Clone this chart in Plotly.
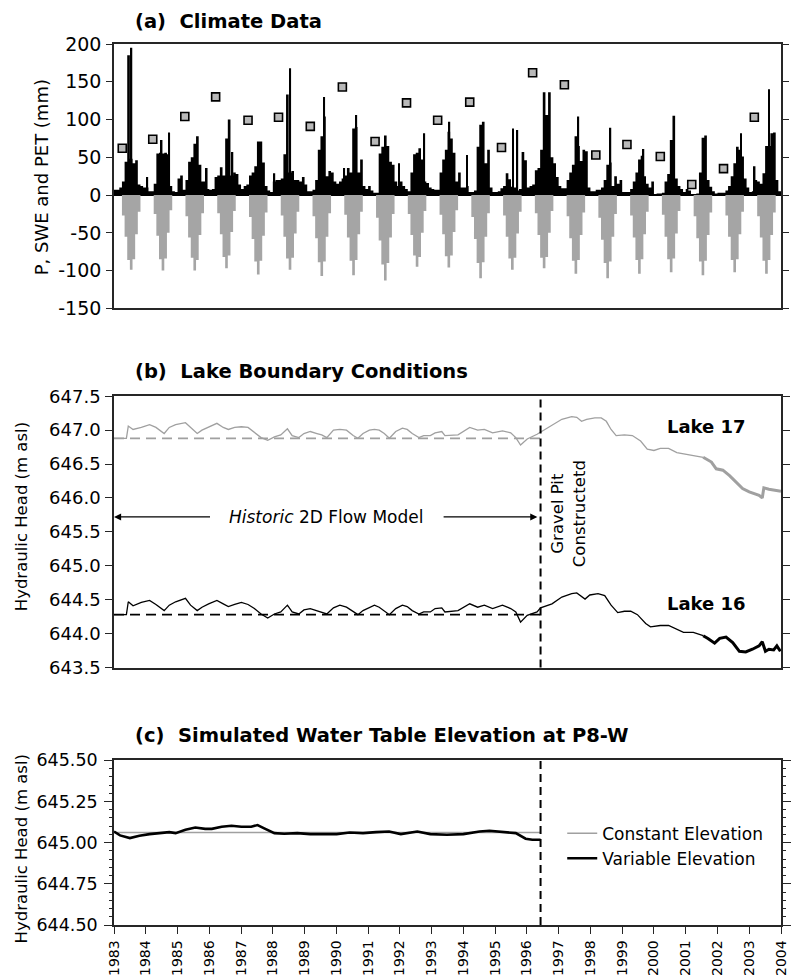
import plotly.graph_objects as go

# ---------------- DATA ----------------
YEARS = list(range(1983, 2004))

# (a) monthly precipitation (mm), Jan..Dec for each year 1983-2003
P_MONTHLY = [
    [7, 7, 10, 18, 44, 185, 48, 42, 46, 14, 12, 10],
    [10, 5, 5, 15, 55, 56, 55, 56, 54, 12, 5, 4],
    [22, 26, 7, 20, 44, 50, 68, 78, 40, 18, 18, 8],
    [7, 8, 24, 26, 37, 26, 75, 100, 26, 30, 28, 14],
    [8, 12, 14, 26, 30, 38, 71, 71, 43, 12, 6, 4],
    [18, 20, 20, 22, 54, 133, 30, 32, 20, 20, 18, 24],
    [14, 5, 5, 7, 20, 60, 78, 104, 25, 32, 30, 18],
    [15, 18, 22, 26, 36, 30, 88, 90, 30, 47, 12, 8],
    [12, 6, 3, 3, 55, 64, 79, 65, 44, 40, 18, 12],
    [18, 12, 8, 5, 30, 54, 56, 62, 47, 18, 16, 10],
    [8, 7, 7, 30, 47, 60, 84, 75, 56, 18, 30, 10],
    [10, 12, 4, 4, 6, 64, 93, 97, 42, 60, 10, 4],
    [4, 5, 9, 12, 29, 21, 11, 10, 6, 8, 57, 46],
    [10, 12, 14, 33, 36, 60, 136, 106, 136, 50, 42, 24],
    [12, 9, 9, 20, 30, 40, 78, 65, 45, 60, 58, 10],
    [5, 5, 7, 7, 10, 20, 40, 43, 12, 25, 15, 20],
    [4, 4, 4, 8, 18, 30, 47, 52, 25, 15, 10, 18],
    [1, 2, 2, 3, 18, 28, 73, 105, 22, 12, 8, 4],
    [8, 6, 1, 1, 2, 30, 76, 79, 20, 11, 5, 2],
    [3, 3, 3, 6, 12, 25, 42, 64, 60, 51, 22, 10],
    [4, 5, 20, 18, 15, 29, 65, 65, 82, 83, 20, 5],
]

# short high-intensity precipitation events (decimal year, mm)
P_SPIKE_T = [1983.55, 1984.05, 1984.50, 1984.74, 1985.92, 1986.73, 1988.05, 1988.55,
             1989.62, 1990.25, 1990.63, 1991.97, 1992.77, 1993.56, 1994.12, 1995.56,
             1995.70, 1997.62, 1998.63, 1999.67, 2002.74, 2003.17, 2003.62]
P_SPIKE_V = [195, 24, 73, 83, 36, 57, 29, 168,
             130, 36, 106, 42, 82, 97, 53, 88,
             86, 104, 89, 61, 82, 38, 140]

# (a) monthly PET (mm, negative), April..October each year
PET_MONTHS = [3, 4, 5, 6, 7, 8, 9]
PET_APR_OCT = [
    [-27, -55, -86, -99, -85, -52, -22],
    [-25, -54, -85, -100, -84, -50, -20],
    [-28, -56, -83, -100, -86, -53, -24],
    [-24, -52, -82, -97, -80, -49, -21],
    [-29, -58, -88, -105, -87, -54, -23],
    [-27, -55, -84, -99, -83, -51, -22],
    [-28, -57, -89, -107, -88, -55, -24],
    [-26, -56, -87, -106, -86, -52, -22],
    [-30, -60, -92, -113, -90, -56, -25],
    [-25, -53, -80, -95, -82, -50, -21],
    [-26, -52, -81, -96, -80, -49, -20],
    [-29, -58, -90, -110, -89, -55, -24],
    [-27, -55, -84, -99, -83, -51, -22],
    [-24, -53, -83, -97, -82, -50, -21],
    [-28, -57, -87, -104, -86, -53, -23],
    [-30, -59, -90, -110, -88, -55, -25],
    [-27, -56, -86, -104, -85, -52, -22],
    [-26, -55, -85, -102, -84, -51, -21],
    [-28, -57, -88, -106, -87, -53, -23],
    [-27, -55, -86, -102, -85, -52, -22],
    [-28, -56, -87, -104, -86, -53, -23],
]

# (a) peak snow water equivalent
SWE_T = [1983.26, 1984.22, 1985.23, 1986.20, 1987.22, 1988.18, 1989.18, 1990.19,
         1991.22, 1992.21, 1993.19, 1994.20, 1995.20, 1996.18, 1997.18, 1998.17,
         1999.15, 2000.20, 2001.19, 2002.19, 2003.16]
SWE_V = [62, 74, 104, 130, 99, 103, 91, 143, 71, 122, 99, 123, 63, 162, 146, 53,
         67, 51, 14, 35, 103]

# (b) lake levels (m asl)
LAKE17_T = [1983.00, 1983.39, 1983.45, 1983.60, 1983.86, 1984.12, 1984.32, 1984.58, 1984.74,
            1984.94, 1985.25, 1985.41, 1985.62, 1985.77, 1985.98, 1986.24, 1986.44, 1986.60,
            1986.80, 1987.01, 1987.22, 1987.42, 1987.63, 1987.84, 1988.05, 1988.25, 1988.46,
            1988.61, 1988.82, 1988.98, 1989.18, 1989.39, 1989.54, 1989.70, 1989.91, 1990.11,
            1990.32, 1990.53, 1990.68, 1990.84, 1991.04, 1991.20, 1991.35, 1991.51, 1991.67,
            1991.87, 1992.08, 1992.23, 1992.39, 1992.60, 1992.75, 1992.96, 1993.11, 1993.32,
            1993.42, 1993.83, 1994.20, 1994.45, 1994.66, 1994.92, 1995.23, 1995.49, 1995.65,
            1995.80, 1996.01, 1996.32, 1996.43, 1996.79, 1997.10, 1997.41, 1997.57, 1997.72,
            1997.88, 1998.14, 1998.34, 1998.50, 1998.65, 1998.81, 1999.07, 1999.32, 1999.58,
            1999.79, 2000.00, 2000.20, 2000.46, 2000.72, 2000.98, 2001.29, 2001.55, 2001.81,
            2001.96, 2002.17, 2002.38, 2002.58, 2002.79, 2003.00, 2003.31, 2003.41, 2003.46,
            2003.62, 2003.82, 2004.00]
LAKE17_V = [646.88, 646.88, 647.06, 647.01, 647.04, 647.08, 647.04, 646.95, 647.04,
            647.08, 647.11, 647.04, 646.95, 647.00, 647.05, 647.10, 647.04, 647.01,
            647.04, 647.05, 647.04, 646.96, 646.89, 646.85, 646.90, 646.93, 647.02,
            646.92, 646.89, 646.95, 646.98, 646.95, 646.93, 646.89, 647.00, 647.01,
            647.00, 646.92, 646.88, 646.95, 647.00, 647.01, 647.00, 646.95, 646.88,
            646.98, 647.03, 647.01, 646.95, 646.89, 646.92, 646.92, 646.96, 646.98,
            646.92, 646.93, 647.04, 647.00, 647.01, 646.96, 646.99, 646.96, 646.89,
            646.78, 646.87, 646.94, 646.97, 647.07, 647.16, 647.20, 647.19, 647.13,
            647.16, 647.18, 647.18, 647.13, 647.01, 646.92, 646.93, 646.92, 646.84,
            646.72, 646.70, 646.73, 646.73, 646.67, 646.65, 646.63, 646.60, 646.53,
            646.43, 646.41, 646.33, 646.23, 646.14, 646.09, 646.04, 646.00, 646.15,
            646.13, 646.12, 646.10]

LAKE16_T = [1983.00, 1983.39, 1983.45, 1983.60, 1983.86, 1984.12, 1984.32, 1984.58, 1984.74,
            1984.94, 1985.25, 1985.41, 1985.62, 1985.77, 1985.98, 1986.24, 1986.44, 1986.60,
            1986.80, 1987.01, 1987.22, 1987.42, 1987.63, 1987.84, 1988.05, 1988.25, 1988.46,
            1988.61, 1988.82, 1988.98, 1989.18, 1989.39, 1989.54, 1989.70, 1989.91, 1990.11,
            1990.32, 1990.53, 1990.68, 1990.84, 1991.04, 1991.20, 1991.35, 1991.51, 1991.67,
            1991.87, 1992.08, 1992.23, 1992.39, 1992.60, 1992.75, 1992.96, 1993.11, 1993.32,
            1993.42, 1993.83, 1994.20, 1994.45, 1994.66, 1994.92, 1995.23, 1995.49, 1995.65,
            1995.80, 1996.01, 1996.32, 1996.43, 1996.79, 1997.10, 1997.41, 1997.57, 1997.83,
            1997.98, 1998.24, 1998.45, 1998.65, 1998.86, 1999.07, 1999.27, 1999.48, 1999.74,
            1999.89, 2000.20, 2000.46, 2000.72, 2000.93, 2001.24, 2001.55, 2001.70, 2001.91,
            2002.07, 2002.27, 2002.48, 2002.69, 2002.89, 2003.10, 2003.31, 2003.41, 2003.51,
            2003.62, 2003.77, 2003.87, 2003.98]
LAKE16_V = [644.28, 644.28, 644.47, 644.41, 644.46, 644.49, 644.43, 644.34, 644.42,
            644.47, 644.52, 644.42, 644.34, 644.39, 644.44, 644.49, 644.44, 644.40,
            644.43, 644.46, 644.43, 644.37, 644.29, 644.23, 644.29, 644.32, 644.42,
            644.32, 644.29, 644.35, 644.37, 644.34, 644.32, 644.29, 644.38, 644.42,
            644.39, 644.32, 644.28, 644.34, 644.39, 644.42, 644.39, 644.34, 644.28,
            644.37, 644.42, 644.40, 644.34, 644.29, 644.32, 644.32, 644.37, 644.38,
            644.32, 644.34, 644.44, 644.39, 644.42, 644.37, 644.42, 644.37, 644.32,
            644.17, 644.27, 644.32, 644.38, 644.44, 644.54, 644.59, 644.60, 644.51,
            644.57, 644.59, 644.56, 644.42, 644.31, 644.33, 644.33, 644.28, 644.15,
            644.10, 644.12, 644.12, 644.07, 644.02, 644.02, 643.97, 643.93, 643.86,
            643.93, 643.95, 643.87, 643.74, 643.73, 643.77, 643.82, 643.88, 643.74,
            643.77, 643.76, 643.82, 643.74]

LAKE17_HIST = 646.88
LAKE16_HIST = 644.28
OBS_START = 2001.55       # start of the heavier line segment
GRAVEL_PIT = 1996.43      # gravel pit constructed

# (c) simulated water table at P8-W
P8W_T = [1983.00, 1983.19, 1983.50, 1983.80, 1984.12, 1984.43, 1984.74, 1984.94, 1985.25,
         1985.56, 1985.87, 1986.08, 1986.39, 1986.70, 1987.01, 1987.32, 1987.52, 1987.73,
         1988.05, 1988.36, 1988.77, 1989.18, 1989.60, 1990.01, 1990.42, 1990.84, 1991.25,
         1991.66, 1992.03, 1992.55, 1992.96, 1993.48, 1994.00, 1994.51, 1994.82, 1995.24,
         1995.65, 1995.96, 1996.17, 1996.43]
P8W_V = [645.068, 645.044, 645.028, 645.042, 645.052, 645.058, 645.064, 645.058, 645.078,
         645.092, 645.084, 645.084, 645.097, 645.103, 645.097, 645.097, 645.107, 645.087,
         645.058, 645.054, 645.058, 645.052, 645.052, 645.052, 645.062, 645.058, 645.064,
         645.068, 645.052, 645.068, 645.052, 645.048, 645.052, 645.068, 645.072, 645.064,
         645.058, 645.024, 645.018, 645.018]
P8W_CONST = 645.062

X_TICKS = list(range(1983, 2005))
YA_TICKS = [-150, -100, -50, 0, 50, 100, 150, 200]
YB_TICKS = [643.5, 644.0, 644.5, 645.0, 645.5, 646.0, 646.5, 647.0, 647.5]
YC_TICKS = [644.50, 644.75, 645.00, 645.25, 645.50]

# ---------------- BUILD ----------------
FONT = "DejaVu Sans"
AX = "#262626"
GREY_BAR = "#a5a5a5"
GREY_LINE = "#a0a0a0"

# monthly step series (month start edges + closing edge)
p_x, p_y, pet_x, pet_y = [], [], [], []
for yr, prow, erow in zip(YEARS, P_MONTHLY, PET_APR_OCT):
    pet_map = dict(zip(PET_MONTHS, erow))
    for m in range(12):
        p_x.append(yr + m / 12)
        p_y.append(prow[m])
        pet_x.append(yr + m / 12)
        pet_y.append(pet_map.get(m, 0))
p_x.append(YEARS[-1] + 1)
p_y.append(p_y[-1])
pet_x.append(YEARS[-1] + 1)
pet_y.append(pet_y[-1])

fig = go.Figure()

# panel a
fig.add_trace(go.Scatter(x=pet_x, y=pet_y, mode="lines", line=dict(width=0, shape="hv", color=GREY_BAR),
                         fill="tozeroy", fillcolor=GREY_BAR, xaxis="x", yaxis="y", showlegend=False))
fig.add_trace(go.Scatter(x=p_x, y=p_y, mode="lines", line=dict(width=0, shape="hv", color="black"),
                         fill="tozeroy", fillcolor="black", xaxis="x", yaxis="y", showlegend=False))
fig.add_trace(go.Bar(x=P_SPIKE_T, y=P_SPIKE_V, width=0.05, marker=dict(color="black", line=dict(width=0)),
                     xaxis="x", yaxis="y", showlegend=False))
fig.add_trace(go.Scatter(x=SWE_T, y=SWE_V, mode="markers",
                         marker=dict(symbol="square", size=8, color="#b9b9b9",
                                     line=dict(color="black", width=1.6)),
                         xaxis="x", yaxis="y", showlegend=False))


def split(ts, vs):
    thin = [(t, v) for t, v in zip(ts, vs) if t <= OBS_START]
    thick = [(t, v) for t, v in zip(ts, vs) if t >= OBS_START]
    return thin, thick


# panel b
for ts, vs, col, hist in [(LAKE17_T, LAKE17_V, GREY_LINE, LAKE17_HIST),
                          (LAKE16_T, LAKE16_V, "black", LAKE16_HIST)]:
    fig.add_trace(go.Scatter(x=[1983, GRAVEL_PIT], y=[hist, hist], mode="lines",
                             line=dict(color=col, width=1.8, dash="10px,6px"),
                             xaxis="x2", yaxis="y2", showlegend=False))
    thin, thick = split(ts, vs)
    fig.add_trace(go.Scatter(x=[a for a, b in thin], y=[b for a, b in thin], mode="lines",
                             line=dict(color=col, width=1.3), xaxis="x2", yaxis="y2", showlegend=False))
    fig.add_trace(go.Scatter(x=[a for a, b in thick], y=[b for a, b in thick], mode="lines",
                             line=dict(color=col, width=3), xaxis="x2", yaxis="y2", showlegend=False))

# panel c
fig.add_trace(go.Scatter(x=[1983, GRAVEL_PIT], y=[P8W_CONST, P8W_CONST], mode="lines",
                         name="Constant Elevation", line=dict(color=GREY_LINE, width=1.6),
                         xaxis="x3", yaxis="y3"))
fig.add_trace(go.Scatter(x=P8W_T, y=P8W_V, mode="lines", name="Variable Elevation",
                         line=dict(color="black", width=2.6), xaxis="x3", yaxis="y3"))

xcommon = dict(range=[1983, 2004], showline=True, mirror=True, linecolor=AX, linewidth=1.6,
               showgrid=False, zeroline=False)
ycommon = dict(showline=True, mirror="ticks", linecolor=AX, linewidth=1.6, showgrid=False,
               ticks="outside", tickcolor=AX, tickwidth=1.4)

fig.update_layout(
    width=792, height=977,
    margin=dict(l=114, r=1, t=44, b=50),
    paper_bgcolor="white", plot_bgcolor="white",
    barmode="overlay",
    font=dict(family=FONT, color="black"),
    showlegend=True,
    legend=dict(x=0.672, y=0.0895, xanchor="left", yanchor="middle",
                font=dict(size=17, family=FONT), bgcolor="rgba(0,0,0,0)",
                itemwidth=30, tracegroupgap=2),
    xaxis=dict(domain=[0, 1], anchor="y", showticklabels=False, ticks="", **xcommon),
    yaxis=dict(domain=[0.6999, 1.0], anchor="x", range=[-150, 200],
               tickvals=YA_TICKS, ticktext=[str(v) for v in YA_TICKS],
               ticklen=6, tickfont=dict(size=19), ticklabelstandoff=1,
               zeroline=True, zerolinecolor="black", zerolinewidth=2.2, layer="above traces",
               **ycommon),
    xaxis2=dict(domain=[0, 1], anchor="y2", showticklabels=False, ticks="", **xcommon),
    yaxis2=dict(domain=[0.2922, 0.6002], anchor="x2", range=[643.5, 647.5],
                tickvals=YB_TICKS, ticktext=[f"{v:.1f}" for v in YB_TICKS],
                ticklen=7, tickfont=dict(size=18), ticklabelstandoff=1, zeroline=False, **ycommon),
    xaxis3=dict(domain=[0, 1], anchor="y3", tickvals=X_TICKS, ticktext=[str(v) for v in X_TICKS],
                ticks="outside", ticklen=7, tickcolor=AX, tickwidth=1.4, tickangle=-90,
                tickfont=dict(size=14), ticklabelstandoff=1, **xcommon),
    yaxis3=dict(domain=[0, 0.1869], anchor="x3", range=[644.5, 645.5],
                tickvals=YC_TICKS, ticktext=[f"{v:.2f}" for v in YC_TICKS],
                ticklen=8, tickfont=dict(size=17.5), ticklabelstandoff=3, zeroline=False,
                minor=dict(dtick=0.05, tick0=644.5, ticks="outside", ticklen=3,
                           tickcolor=AX, tickwidth=1.2, showgrid=False),
                **ycommon),
)

# gravel pit vertical dashed lines
for xr, yr in [("x2", "y2 domain"), ("x3", "y3 domain")]:
    fig.add_shape(type="line", xref=xr, yref=yr, x0=GRAVEL_PIT, x1=GRAVEL_PIT, y0=0, y1=1,
                  line=dict(color="black", width=2, dash="8px,5px"))

ann = []
title_font = dict(family=FONT, size=19.5, color="black")
for txt, y in [("(a)\u00a0\u00a0Climate Data", 1.026),
               ("(b)\u00a0\u00a0Lake Boundary Conditions", 0.6285),
               ("(c)\u00a0\u00a0Simulated Water Table Elevation at P8-W", 0.2152)]:
    ann.append(dict(text=f"<b>{txt}</b>", xref="paper", yref="paper", x=0.028, y=y,
                    xanchor="left", yanchor="middle", showarrow=False, font=title_font))

# axis titles
ann.append(dict(text="P, SWE and PET (mm)", xref="paper", yref="paper", x=-0.1093, y=0.8488,
                textangle=-90, showarrow=False, font=dict(size=18), xanchor="center", yanchor="middle"))
ann.append(dict(text="Hydraulic Head (m asl)", xref="paper", yref="paper", x=-0.1374, y=0.4632,
                textangle=-90, showarrow=False, font=dict(size=16.5), xanchor="center", yanchor="middle"))
ann.append(dict(text="Hydraulic Head (m asl)", xref="paper", yref="paper", x=-0.139, y=0.0861,
                textangle=-90, showarrow=False, font=dict(size=16.5), xanchor="center", yanchor="middle"))

# lake labels
ann.append(dict(text="<b>Lake 17</b>", xref="paper", yref="paper", x=0.8877, y=0.5663,
                xanchor="center", yanchor="middle", showarrow=False, font=dict(size=18)))
ann.append(dict(text="<b>Lake 16</b>", xref="paper", yref="paper", x=0.8877, y=0.3647,
                xanchor="center", yanchor="middle", showarrow=False, font=dict(size=18)))

# historic model annotation
ann.append(dict(text="<i>Historic</i> 2D Flow Model", xref="paper", yref="paper", x=0.3176, y=0.4632,
                xanchor="center", yanchor="middle", showarrow=False, font=dict(size=17)))
ann.append(dict(text="", xref="x2", yref="y2", x=1983.0, y=645.72, ax=1986.07, ay=645.72,
                axref="x2", ayref="y2", showarrow=True, arrowhead=2, arrowsize=1.1,
                arrowwidth=1.3, arrowcolor="black", standoff=0, startstandoff=0))
ann.append(dict(text="", xref="x2", yref="y2", x=1996.33, y=645.72, ax=1993.33, ay=645.72,
                axref="x2", ayref="y2", showarrow=True, arrowhead=2, arrowsize=1.1,
                arrowwidth=1.3, arrowcolor="black", standoff=0, startstandoff=0))
ann.append(dict(text="Gravel Pit<br>Constructetd", xref="paper", yref="paper", x=0.681, y=0.4666,
                xanchor="center", yanchor="middle",
                textangle=-90, showarrow=False, font=dict(size=16.5), align="center"))

fig.update_layout(annotations=ann)

fig.write_html("out.html")
